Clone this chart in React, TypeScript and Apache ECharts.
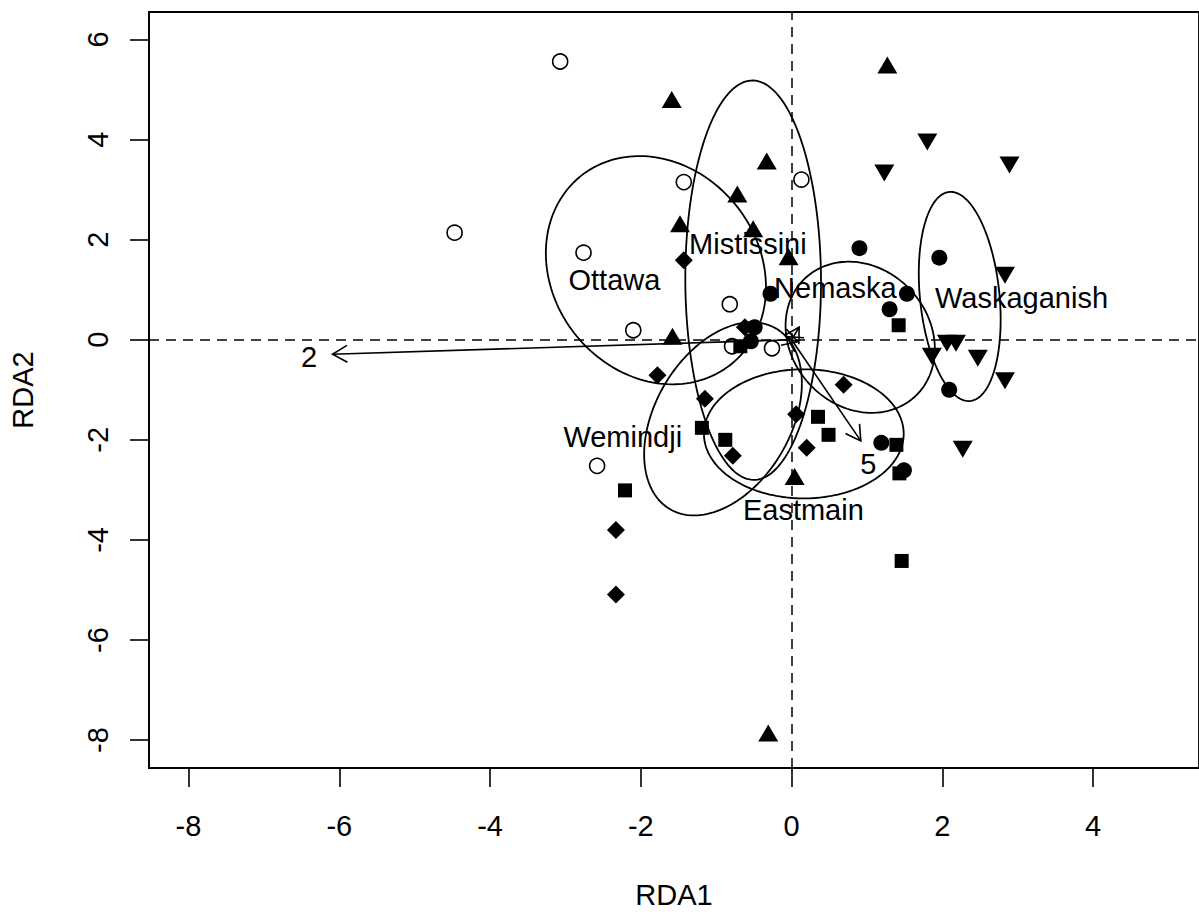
import React, { useEffect, useRef } from "react";
import * as echarts from "echarts";

// Axis ranges and ticks
const X_MIN = -8.524;
const X_MAX = 5.404;
const Y_MIN = -8.557;
const Y_MAX = 6.549;
const xTicks = [-8, -6, -4, -2, 0, 2, 4];
const yTicks = [-8, -6, -4, -2, 0, 2, 4, 6];

// Site scores by group
const ottawa = [
  [-3.07, 5.56], [-4.47, 2.14], [-2.76, 1.74], [-1.43, 3.15], [0.13, 3.2],
  [-0.82, 0.71], [-2.1, 0.19], [-0.79, -0.13], [-0.26, -0.17], [-2.58, -2.52],
];
const mistissini = [
  [-1.59, 4.8], [1.27, 5.49], [-0.33, 3.57], [-0.72, 2.91], [-1.48, 2.32],
  [-0.51, 2.22], [-0.04, 1.66], [-1.58, 0.07], [0.04, -2.73], [-0.31, -7.86],
];
const waskaganish = [
  [1.23, 3.33], [1.8, 3.95], [2.89, 3.49], [2.83, 1.29], [1.86, -0.33],
  [2.06, -0.07], [2.18, -0.07], [2.47, -0.37], [2.83, -0.82], [2.27, -2.19],
];
const nemaska = [
  [0.9, 1.83], [1.96, 1.64], [1.53, 0.92], [1.3, 0.61], [-0.28, 0.92],
  [2.09, -1.0], [1.19, -2.06], [1.49, -2.61], [-0.49, 0.25], [-0.54, -0.03],
];
const eastmain = [
  [1.42, 0.29], [0.35, -1.54], [0.49, -1.9], [1.39, -2.1], [1.43, -2.67],
  [-1.19, -1.76], [-0.88, -2.0], [-2.21, -3.01], [1.46, -4.42], [-0.68, -0.13],
];
const wemindji = [
  [-1.43, 1.59], [-1.78, -0.71], [-1.15, -1.18], [0.06, -1.49], [0.69, -0.9],
  [0.2, -2.16], [-0.78, -2.32], [-2.33, -3.8], [-2.33, -5.09], [-0.62, 0.25],
];

// Ellipses: [centerX, centerY, halfWidthX, halfHeightY, tilt (sin phi)]
const ellipses = [
  [-1.8, 1.39, 1.46, 2.28, -0.15],   // Ottawa
  [-0.51, 1.19, 0.9, 3.99, -0.01],   // Mistissini
  [0.91, 0.05, 0.99, 1.51, -0.154],  // Nemaska
  [2.23, 0.865, 0.543, 2.09, -0.22], // Waskaganish
  [-0.91, -1.58, 1.046, 1.93, 0.367],// Wemindji
  [0.162, -1.88, 1.325, 1.29, 0.0],  // Eastmain
];

// Group labels (names and positions)
const groupNames = ["Ottawa", "Mistissini", "Nemaska", "Waskaganish", "Wemindji", "Eastmain"];
const groupLabelPos = [
  [-2.35, 1.2], [-0.58, 1.92], [0.58, 1.04], [3.05, 0.84], [-2.24, -1.94], [0.156, -3.4],
];

// Biplot arrows: [x0, y0, x1, y1]
const arrows = [
  [0, 0, -6.09, -0.29],
  [0, 0, 0.918, -2.02],
  [0, 0, 0.1, 0.25],
  [0, 0, -0.06, 0.06],
  [0, 0, 0.08, -0.04],
];
const arrowLabels = ["2", "5"];
const arrowLabelPos = [[-6.4, -0.34], [1.017, -2.48]];

const FONT = "'Liberation Sans', Arial, Helvetica, sans-serif";

export default function App() {
  const ref = useRef<HTMLDivElement>(null);
  useEffect(() => {
    if (!ref.current) return;
    const chart = echarts.init(ref.current, null, { renderer: "svg" });

    const pointStyle = (color: string, border?: boolean) =>
      border
        ? { color: "rgba(0,0,0,0)", borderColor: "#000", borderWidth: 1.6, opacity: 1 }
        : { color, opacity: 1 };

    const textItems = [
      ...groupNames.map((n, i) => ({ name: n, value: groupLabelPos[i] })),
      ...arrowLabels.map((n, i) => ({ name: n, value: arrowLabelPos[i] })),
    ];

    chart.setOption({
      animation: false,
      backgroundColor: "#fff",
      grid: {
        left: 149,
        top: 12,
        width: 1052,
        height: 760,
        show: true,
        borderColor: "#000",
        borderWidth: 1.8,
        backgroundColor: "transparent",
      },
      xAxis: {
        type: "value",
        min: X_MIN,
        max: X_MAX,
        splitLine: { show: false },
        axisLine: { show: true, onZero: false, lineStyle: { color: "#000", width: 1.8 } },
        axisTick: {
          show: true,
          inside: false,
          length: 19,
          customValues: xTicks,
          lineStyle: { color: "#000", width: 1.6 },
        },
        axisLabel: {
          customValues: xTicks,
          fontSize: 29,
          color: "#000",
          margin: 43,
          fontFamily: FONT,
        },
        name: "RDA1",
        nameLocation: "middle",
        nameGap: 112,
        nameTextStyle: { fontSize: 29, color: "#000", fontFamily: FONT },
      },
      yAxis: {
        type: "value",
        min: Y_MIN,
        max: Y_MAX,
        splitLine: { show: false },
        axisLine: { show: true, onZero: false, lineStyle: { color: "#000", width: 1.8 } },
        axisTick: {
          show: true,
          inside: false,
          length: 19,
          customValues: yTicks,
          lineStyle: { color: "#000", width: 1.6 },
        },
        axisLabel: {
          customValues: yTicks,
          fontSize: 29,
          color: "#000",
          margin: 37,
          rotate: 90,
          fontFamily: FONT,
        },
        name: "RDA2",
        nameLocation: "middle",
        nameGap: 112,
        nameRotate: 90,
        nameTextStyle: { fontSize: 29, color: "#000", fontFamily: FONT },
      },
      series: [
        {
          type: "scatter",
          data: [],
          silent: true,
          markLine: {
            silent: true,
            symbol: ["none", "none"],
            label: { show: false },
            lineStyle: { color: "#000", width: 1.5, type: [10, 7], opacity: 1 },
            data: [{ xAxis: 0 }, { yAxis: 0 }],
          },
        },
        {
          type: "custom",
          data: ellipses,
          silent: true,
          renderItem: (params: any, api: any) => {
            const cx = api.value(0), cy = api.value(1), rx = api.value(2), ry = api.value(3), s = api.value(4);
            const phi = Math.asin(s);
            const pts: number[][] = [];
            const N = 180;
            for (let i = 0; i <= N; i++) {
              const t = (2 * Math.PI * i) / N;
              pts.push(api.coord([cx + rx * Math.cos(t), cy + ry * Math.sin(t + phi)]));
            }
            return {
              type: "polyline",
              shape: { points: pts },
              style: { fill: "none", stroke: "#000", lineWidth: 1.8 },
            };
          },
        },
        {
          type: "custom",
          data: arrows,
          silent: true,
          renderItem: (params: any, api: any) => {
            const p0 = api.coord([api.value(0), api.value(1)]);
            const p1 = api.coord([api.value(2), api.value(3)]);
            const ang = Math.atan2(p1[1] - p0[1], p1[0] - p0[0]);
            const L = 17, a = Math.PI / 6;
            const h1 = [p1[0] - L * Math.cos(ang - a), p1[1] - L * Math.sin(ang - a)];
            const h2 = [p1[0] - L * Math.cos(ang + a), p1[1] - L * Math.sin(ang + a)];
            return {
              type: "group",
              children: [
                { type: "line", shape: { x1: p0[0], y1: p0[1], x2: p1[0], y2: p1[1] }, style: { stroke: "#000", lineWidth: 1.6 } },
                { type: "polyline", shape: { points: [h1, p1, h2] }, style: { stroke: "#000", fill: "none", lineWidth: 1.6 } },
              ],
            };
          },
        },
        { type: "scatter", name: "Ottawa", data: ottawa, symbol: "circle", symbolSize: 15, itemStyle: pointStyle("#000", true) },
        { type: "scatter", name: "Mistissini", data: mistissini, symbol: "triangle", symbolSize: [20, 17], itemStyle: pointStyle("#000") },
        { type: "scatter", name: "Waskaganish", data: waskaganish, symbol: "triangle", symbolRotate: 180, symbolSize: [20, 17], itemStyle: pointStyle("#000") },
        { type: "scatter", name: "Nemaska", data: nemaska, symbol: "circle", symbolSize: 16, itemStyle: pointStyle("#000") },
        { type: "scatter", name: "Eastmain", data: eastmain, symbol: "rect", symbolSize: 14, itemStyle: pointStyle("#000") },
        { type: "scatter", name: "Wemindji", data: wemindji, symbol: "diamond", symbolSize: [18, 18], itemStyle: pointStyle("#000") },
        {
          type: "scatter",
          data: textItems,
          symbolSize: 1,
          silent: true,
          itemStyle: { color: "rgba(0,0,0,0)", opacity: 1 },
          label: {
            show: true,
            position: "inside",
            formatter: (p: any) => p.name,
            fontSize: 29,
            color: "#000",
            opacity: 1,
            fontFamily: FONT,
          },
        },
      ],
    });
    return () => chart.dispose();
  }, []);
  return (
    <div
      ref={ref}
      style={{ position: "fixed", left: 0, top: 0, width: 1199, height: 914, background: "#fff" }}
    />
  );
}
